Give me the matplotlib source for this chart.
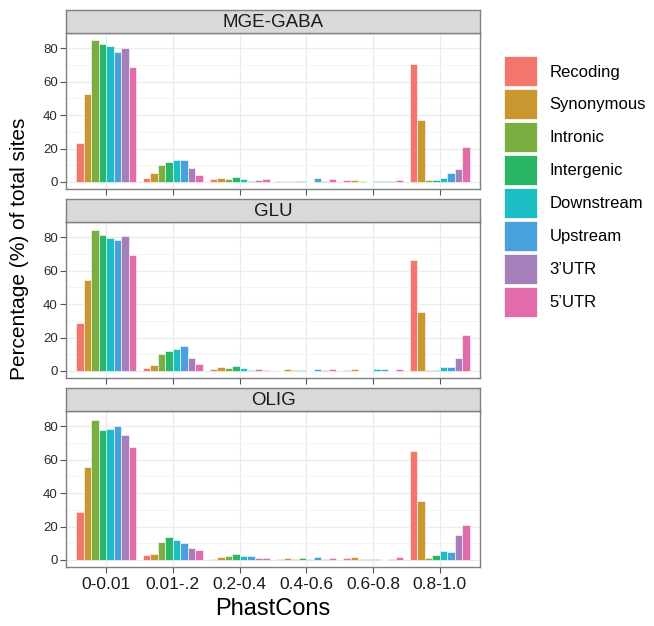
import numpy as np
import matplotlib
matplotlib.use("Agg")
import matplotlib.pyplot as plt
from matplotlib.patches import Patch

plt.rcParams['font.family'] = ['Liberation Sans', 'DejaVu Sans']

bins = ["0-0.01", "0.01-.2", "0.2-0.4", "0.4-0.6", "0.6-0.8", "0.8-1.0"]
categories = ["Recoding", "Synonymous", "Intronic", "Intergenic",
              "Downstream", "Upstream", "3\u2019UTR", "5\u2019UTR"]
colors = ["#F3766E", "#C9962F", "#7BAE41", "#2BB566",
          "#1CBEC3", "#48A1DA", "#A57FBA", "#E26BAA"]

# percentages per category (rows) and PhastCons bin (columns)
mge_gaba = [
    [23.2, 2.2, 1.6, 0.6, 1.0, 70.9],
    [52.7, 5.2, 2.4, 0.4, 1.2, 37.3],
    [85.0, 10.0, 1.8, 0.6, 0.3, 1.4],
    [82.8, 11.8, 2.8, 0.6, 0.0, 1.4],
    [81.2, 13.0, 1.6, 0.0, 0.8, 2.4],
    [77.6, 13.0, 0.6, 2.6, 0.6, 5.2],
    [80.2, 8.6, 1.2, 0.6, 0.6, 8.0],
    [68.9, 4.2, 2.0, 2.0, 1.2, 21.0],
]
glu = [
    [28.5, 1.6, 1.2, 0.0, 0.6, 66.5],
    [54.3, 3.6, 2.4, 1.4, 1.0, 35.4],
    [84.6, 10.0, 1.6, 0.6, 0.2, 0.8],
    [81.4, 11.9, 3.0, 0.6, 0.0, 0.8],
    [79.4, 13.1, 2.0, 0.0, 1.0, 2.4],
    [78.6, 14.9, 0.8, 1.0, 1.0, 2.4],
    [81.0, 7.6, 1.0, 0.6, 0.0, 8.0],
    [69.5, 4.2, 0.8, 1.2, 1.4, 21.5],
]
olig = [
    [29.0, 2.9, 0.8, 0.8, 1.4, 65.1],
    [55.7, 3.5, 1.8, 1.2, 2.0, 35.5],
    [83.7, 11.0, 2.2, 0.8, 0.4, 1.2],
    [77.6, 13.7, 3.5, 1.2, 0.4, 2.7],
    [78.4, 11.8, 2.2, 0.6, 0.8, 5.5],
    [80.2, 10.2, 2.2, 2.0, 0.0, 4.9],
    [74.7, 7.1, 1.4, 0.8, 0.6, 14.9],
    [67.8, 6.1, 1.4, 1.2, 2.0, 21.0],
]
panels = [("MGE-GABA", mge_gaba), ("GLU", glu), ("OLIG", olig)]

W, H = 654, 626
fig = plt.figure(figsize=(W / 100, H / 100), dpi=100)

# panel geometry in pixels (top-origin)
left_px, right_px = 66, 480
panel_tops = [33, 222, 411]
panel_h = 156
strip_h = 23

def frac_rect(x0, y0, w, h):
    return [x0 / W, 1 - (y0 + h) / H, w / W, h / H]

x = np.arange(1, len(bins) + 1)
bw = 0.9 / len(categories)

for p, (name, data) in enumerate(panels):
    top = panel_tops[p]
    ax = fig.add_axes(frac_rect(left_px, top, right_px - left_px, panel_h))
    for j, cat in enumerate(categories):
        ax.bar(x + (j - 3.5) * bw, data[j], width=bw, color=colors[j],
               edgecolor="white", linewidth=0.4, zorder=3)
    ax.set_xlim(0.4, 6.6)
    ax.set_ylim(-4.25, 89.25)
    ax.set_yticks([0, 20, 40, 60, 80])
    ax.set_yticks([10, 30, 50, 70], minor=True)
    ax.set_xticks(x)
    ax.grid(True, which="major", color="#EBEBEB", linewidth=0.9, zorder=0)
    ax.grid(True, which="minor", axis="y", color="#F3F3F3", linewidth=0.6, zorder=0)
    ax.tick_params(axis="y", which="minor", length=0)
    ax.tick_params(axis="both", which="major", length=4, width=0.8,
                   color="#555555", pad=2)
    ax.tick_params(axis="y", labelsize=9.5, labelcolor="#2B2B2B")
    if p == 2:
        ax.set_xticklabels(bins, fontsize=12.5, color="#1A1A1A")
        ax.tick_params(axis="x", pad=3)
    else:
        ax.set_xticklabels([])
    for s in ax.spines.values():
        s.set_color("#7F7F7F")
        s.set_linewidth(1.0)

    sax = fig.add_axes(frac_rect(left_px, top - strip_h, right_px - left_px, strip_h))
    sax.set_facecolor("#D9D9D9")
    sax.set_xticks([])
    sax.set_yticks([])
    for s in sax.spines.values():
        s.set_color("#7F7F7F")
        s.set_linewidth(1.0)
    sax.text(0.5, 0.47, name, ha="center", va="center", fontsize=13.5,
             color="#1A1A1A", transform=sax.transAxes)

fig.text(20 / W, 1 - 249 / H, "Percentage (%) of total sites", rotation=90,
         ha="center", va="center", fontsize=15, color="black")
fig.text((left_px + right_px) / 2 / W, 1 - 609 / H, "PhastCons",
         ha="center", va="center", fontsize=17, color="black")

handles = [Patch(facecolor=c, edgecolor="white", linewidth=0.5) for c in colors]
fig.legend(handles, categories, loc="upper left",
           bbox_to_anchor=(496 / W, 1 - 48 / H), frameon=False,
           fontsize=12, handlelength=1.95, handleheight=2.4,
           handletextpad=0.75, labelspacing=0.17, borderpad=0)

fig.savefig("out.png", dpi=100)
